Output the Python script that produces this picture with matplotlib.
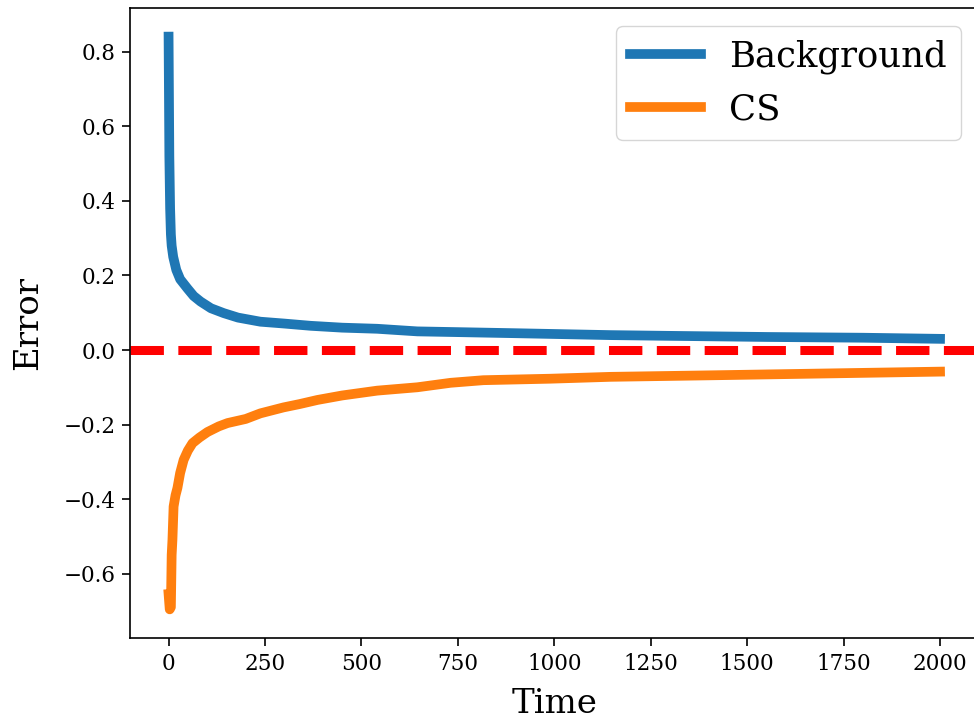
import matplotlib
matplotlib.use("Agg")
import matplotlib.pyplot as plt

# values
bg_time = [0, 2, 4, 6, 8, 12, 20, 30, 49, 65, 83, 110, 143, 180, 238, 300,
           368, 450, 541, 600, 645, 750, 904, 1000, 1145, 1300, 1551, 1800, 2000]
bg_error = [0.841, 0.52, 0.38, 0.31, 0.28, 0.25, 0.215, 0.19, 0.165, 0.145,
            0.130, 0.112, 0.099, 0.087, 0.076, 0.071, 0.065, 0.060, 0.057,
            0.053, 0.050, 0.048, 0.045, 0.043, 0.040, 0.038, 0.035, 0.033, 0.030]

cs_time = [0, 3, 6, 8, 10, 13, 18, 23, 30, 39, 50, 62, 80, 101, 130, 153, 200,
           238, 298, 340, 386, 450, 541, 645, 731, 816, 990, 1145, 1400, 1700, 2000]
cs_error = [-0.655, -0.696, -0.69, -0.55, -0.51, -0.42, -0.39, -0.37, -0.33,
            -0.295, -0.27, -0.25, -0.235, -0.22, -0.205, -0.196, -0.185, -0.17,
            -0.154, -0.145, -0.134, -0.122, -0.109, -0.100, -0.088, -0.081,
            -0.077, -0.072, -0.068, -0.063, -0.058]

plt.rcParams['font.family'] = ['DejaVu Serif']

fig = plt.figure(figsize=(9.74, 7.23), dpi=100)
# right edge of the axes runs just past the picture, as in the reference
ax = fig.add_axes([130 / 974, 1 - 638 / 723, (978.6 - 130) / 974, (638 - 8) / 723])

ax.plot(bg_time, bg_error, color='#1f77b4', linewidth=7.0, label='Background')
ax.plot(cs_time, cs_error, color='#ff7f0e', linewidth=7.0, label='CS')
ax.axhline(0, color='red', linestyle='--', linewidth=6.5)

ax.set_xlabel('Time', fontsize=24.5, labelpad=10)
ax.set_ylabel('Error', fontsize=24.5, labelpad=14)
ax.set_xticks([0, 250, 500, 750, 1000, 1250, 1500, 1750, 2000])
ax.set_yticks([-0.6, -0.4, -0.2, 0.0, 0.2, 0.4, 0.6, 0.8])
ax.tick_params(labelsize=15.5, length=5.5, width=1.2, pad=5)
for s in ax.spines.values():
    s.set_linewidth(1.2)

ax.legend(fontsize=25.5, loc='upper right')

fig.savefig('out.png', dpi=100)
